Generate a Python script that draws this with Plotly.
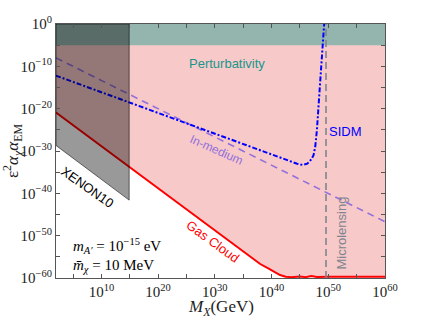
import plotly.graph_objects as go

# ---- data (log10 exponents) ----
x_range_exp = [2, 60]
y_range_exp = [-60, 0]

gas_logx = [2, 10, 20, 30, 36, 38, 39.5, 40.5, 41.5, 42.5, 43.5, 45, 46, 47, 48, 50, 53, 55, 57, 60]
gas_logy = [-20.9, -28.9, -38.9, -48.9, -54.9, -56.7, -57.8, -58.6, -59.3, -59.7, -59.8, -59.65,
            -59.8, -59.55, -59.75, -59.7, -59.65, -59.75, -59.6, -59.7]

sidm_logx = [2, 10, 20, 30, 40, 43, 44.5, 45.5, 46.3, 47, 47.4, 47.7, 48, 48.5, 49, 49.3]
sidm_logy = [-12.2, -16.1, -21.0, -25.9, -30.8, -32.3, -33.0, -33.3, -33.0, -32.0, -31.0, -29.0,
             -25.0, -15.1, -5.1, 0.5]

medium_logx = [2, 60]
medium_logy = [-8.0, -46.7]

micro_logx = [49.6, 49.6]
micro_logy = [-60, 0]

xenon_logx = [2, 14.9, 14.9, 2, 2]
xenon_logy = [-28.7, -41.6, 0, 0, -28.7]

pert_logx = [2, 60, 60, 2, 2]
pert_logy = [-5, -5, 0, 0, -5]

x_tick_exp = [10, 20, 30, 40, 50, 60]
y_tick_exp = [0, -10, -20, -30, -40, -50, -60]


def p10(v):
    return [10.0 ** e for e in v]


def sup(e):
    return "10<sup>" + str(e).replace("-", "\u2212") + "</sup>"


xt_vals = [10.0 ** e for e in range(0, 61, 5)]
xt_text = [sup(e) if e in x_tick_exp else "" for e in range(0, 61, 5)]
yt_vals = [10.0 ** e for e in range(-60, 1, 5)]
yt_text = [sup(e) if e in y_tick_exp else "" for e in range(-60, 1, 5)]

PINK = "#F7C9C9"
serif = "Liberation Serif"
sans = "Liberation Sans"

fig = go.Figure()

# pink excluded region: between gas cloud line and top
fig.add_trace(go.Scatter(x=p10(gas_logx), y=[1.0] * len(gas_logx), mode="lines",
                         line=dict(width=0), hoverinfo="skip", showlegend=False))
fig.add_trace(go.Scatter(x=p10(gas_logx), y=p10(gas_logy), mode="lines", fill="tonexty",
                         fillcolor=PINK, line=dict(width=0), hoverinfo="skip", showlegend=False))
# perturbativity band
fig.add_trace(go.Scatter(x=p10(pert_logx), y=p10(pert_logy), mode="lines", fill="toself",
                         fillcolor="rgba(0,150,136,0.4)", line=dict(width=0), showlegend=False))
# lines
fig.add_trace(go.Scatter(x=p10(gas_logx), y=p10(gas_logy), mode="lines",
                         line=dict(color="#FF0000", width=2), showlegend=False))
fig.add_trace(go.Scatter(x=p10(medium_logx), y=p10(medium_logy), mode="lines",
                         line=dict(color="#9370DB", width=1.6, dash="7px,5px"), showlegend=False))
fig.add_trace(go.Scatter(x=p10(sidm_logx), y=p10(sidm_logy), mode="lines",
                         line=dict(color="#0000FF", width=2, dash="5px,2px,2px,2px"), showlegend=False))
fig.add_trace(go.Scatter(x=p10(micro_logx), y=p10(micro_logy), mode="lines",
                         line=dict(color="#7F8590", width=1.6, dash="7px,4px"), showlegend=False))
# XENON10 region
fig.add_trace(go.Scatter(x=p10(xenon_logx), y=p10(xenon_logy), mode="lines", fill="toself",
                         fillcolor="rgba(0,0,0,0.4)", line=dict(color="rgba(0,0,0,0.55)", width=1),
                         showlegend=False))

ann = [
    dict(x=32.15, y=-9.3, text="Perturbativity", font=dict(family=sans, size=13, color="#17968C")),
    dict(x=53.1, y=-25.4, text="SIDM", font=dict(family=sans, size=13, color="#0000FF")),
    dict(x=52.4, y=-49.3, text="Microlensing", textangle=-90, font=dict(family=sans, size=13, color="#7F8590")),
    dict(x=30.3, y=-29.8, text="In-medium", textangle=24, font=dict(family=sans, size=12, color="#9370DB")),
    dict(x=7.6, y=-38.6, text="XENON10", textangle=35, font=dict(family=sans, size=13, color="#000000")),
    dict(x=29.65, y=-51.4, text="Gas Cloud", textangle=36, font=dict(family=sans, size=13, color="#FF0000")),
    dict(x=4.7, y=-52.4, xanchor="left",
         text="<i>m</i><sub><i>A\u2032</i></sub> = 10<sup>\u221215</sup> eV",
         font=dict(family=serif, size=15, color="#000000")),
    dict(x=4.7, y=-57.1, xanchor="left",
         text="<i>m\u0304</i><sub><i>\u03c7</i></sub> = 10 MeV",
         font=dict(family=serif, size=15, color="#000000")),
]
for a in ann:
    a.setdefault("xanchor", "center")
    a.update(xref="x", yref="y", showarrow=False, yanchor="middle")
# x-axis title placed as paper annotation
ann.append(dict(x=0.5, y=-0.118, xref="paper", yref="paper", showarrow=False, xanchor="center",
                yanchor="middle", text="<i>M</i><sub><i>X</i></sub>(GeV)",
                font=dict(family=serif, size=17, color="#222222")))
fig.update_layout(annotations=ann)

axis_common = dict(type="log", showgrid=False, zeroline=False, showline=True, linecolor="#555555",
                   linewidth=1, mirror="allticks", ticks="inside", ticklen=4, tickcolor="#555555",
                   tickmode="array", automargin=False,
                   tickfont=dict(family=serif, size=15, color="#222222"))

fig.update_xaxes(range=x_range_exp, tickvals=xt_vals, ticktext=xt_text, **axis_common)
fig.update_yaxes(range=y_range_exp, tickvals=yt_vals, ticktext=yt_text,
                 title=dict(text="\u03b5<sup>2</sup><i>\u03b1</i><sub><i>\u03c7</i></sub><i>\u03b1</i><sub>EM</sub>",
                            font=dict(family=serif, size=17, color="#222222"), standoff=2),
                 **axis_common)

fig.update_layout(width=426, height=320, margin=dict(l=56, r=41, t=24, b=42, autoexpand=False),
                  paper_bgcolor="white", plot_bgcolor="white", showlegend=False)

fig.write_html("out.html", config={"displayModeBar": False},
               post_script="document.body.style.margin='0px';")
